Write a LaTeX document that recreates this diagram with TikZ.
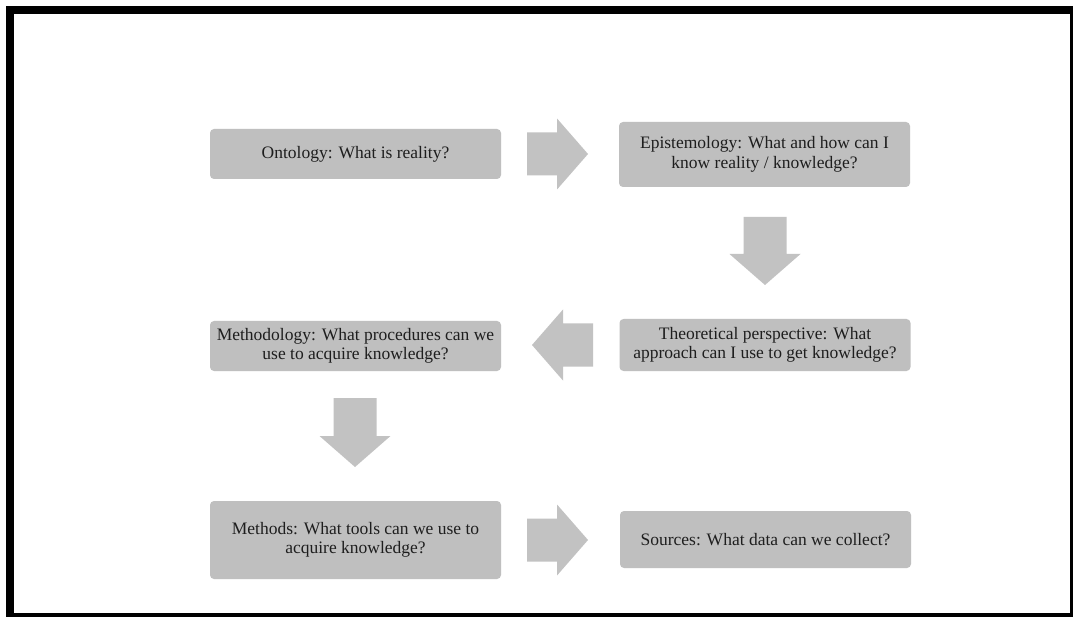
\documentclass[tikz,border=0pt]{standalone}
\usepackage{fontspec}
\setmainfont{Liberation Serif}
\usetikzlibrary{calc}

\definecolor{boxgray}{RGB}{191,191,191}
\definecolor{arrowgray}{RGB}{194,194,194}
\definecolor{inkgray}{RGB}{30,30,30}

% block arrow: #1 centre, #2 rotation (0 = right, -90 = down, 180 = left), #3 total length
\newcommand{\blockarrow}[3]{%
  \fill[arrowgray, shift={(#1)}, rotate=#2]
    (-#3/2,-21.5) -- (#3/2-31,-21.5) -- (#3/2-31,-35.5) -- (#3/2,0)
    -- (#3/2-31,35.5) -- (#3/2-31,21.5) -- (-#3/2,21.5) -- cycle;}

\tikzset{
  qbox/.style={fill=boxgray, rounded corners=4pt, inner sep=0pt,
    minimum width=291pt, align=center, text=inkgray,
    font=\fontsize{17.5}{19.5}\selectfont}
}

\begin{document}
\begin{tikzpicture}[x=1pt, y=-1pt]
  % page and frame
  \useasboundingbox (0,0) rectangle (1073,617);
  \fill[white] (0,0) rectangle (1073,617);
  \fill[black] (6,6) rectangle (1073,617);
  \fill[white] (14,14) rectangle (1070,613);

  % question boxes
  \node[qbox, minimum height=50pt] (ont) at (355.5,154)
    {Ontology: What is reality?};
  \node[qbox, minimum height=65pt] (epi) at (764.5,154.5)
    {Epistemology: What and how can I\\know reality / knowledge?};
  \node[qbox, minimum height=52pt] (theo) at (765,345)
    {Theoretical perspective: What\\approach can I use to get knowledge?};
  \node[qbox, minimum height=50pt] (meth) at (355.5,346)
    {Methodology: What procedures can we\\use to acquire knowledge?};
  \node[qbox, minimum height=78pt] (mtd) at (355.5,540)
    {Methods: What tools can we use to\\acquire knowledge?};
  \node[qbox, minimum height=57pt] (src) at (765.5,539.5)
    {Sources: What data can we collect?};

  % block arrows between the boxes
  \blockarrow{557.5,154}{0}{61}
  \blockarrow{765,251}{-90}{68}
  \blockarrow{562.5,345}{180}{61}
  \blockarrow{355,432.5}{-90}{69}
  \blockarrow{557.5,540}{0}{61}
\end{tikzpicture}
\end{document}
